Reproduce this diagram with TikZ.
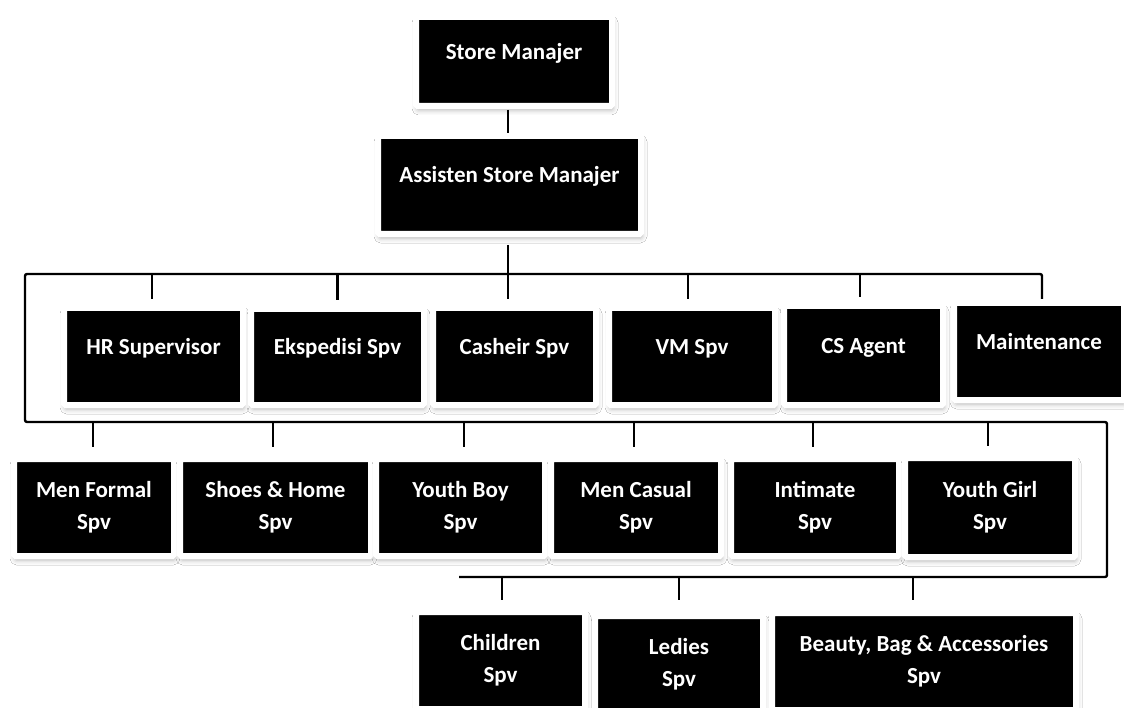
\documentclass[tikz,border=0pt]{standalone}
\usepackage{fontspec}
\setmainfont{Carlito}
\usetikzlibrary{shadows.blur}
\begin{document}
\begin{tikzpicture}[x=1pt,y=-1pt,
  box/.style={rectangle, fill=black, draw=white, line width=6pt, rounded corners=1.5pt,
    text=white, font=\bfseries\fontsize{23}{32}\selectfont, align=center, inner sep=0pt,
    blur shadow={shadow xshift=1pt, shadow yshift=-4pt, shadow blur radius=5pt, shadow opacity=30}},
  one/.style={text height=16pt, text depth=20pt},
  wire/.style={line width=2.4pt, line cap=butt},
  ]
\clip (0,0) rectangle (1124,708);
\fill[white] (0,0) rectangle (1124,708);

% top
\node[box, one, minimum width=196pt, minimum height=89pt] (sm) at (514,61.5) {Store Manajer};
\node[box, one, minimum width=263pt, minimum height=98pt] (asm) at (509.5,185) {Assisten Store Manajer};

% row 1
\node[box, one, minimum width=179pt, minimum height=97pt] (hr) at (153.5,356.5) {HR Supervisor};
\node[box, one, minimum width=173pt, minimum height=96pt] (eksp) at (337.5,357) {Ekspedisi Spv};
\node[box, one, minimum width=163pt, minimum height=97pt] (cas) at (514.5,356.5) {Casheir Spv};
\node[box, one, minimum width=166pt, minimum height=97pt] (vm) at (692,356.5) {VM Spv};
\node[box, one, minimum width=159pt, minimum height=99pt] (cs) at (863.5,355.5) {CS Agent};
\node[box, one, minimum width=170pt, minimum height=97pt] (maint) at (1039,351.5) {Maintenance};

% row 2
\node[box, minimum width=160pt, minimum height=97pt] (mf) at (94,507.5) {Men Formal\\Spv};
\node[box, minimum width=191pt, minimum height=97pt] (sh) at (275.5,507.5) {Shoes \& Home\\Spv};
\node[box, minimum width=169pt, minimum height=97pt] (yb) at (460.5,507.5) {Youth Boy\\Spv};
\node[box, minimum width=170pt, minimum height=97pt] (mc) at (636,507.5) {Men Casual\\Spv};
\node[box, minimum width=168pt, minimum height=97pt] (int) at (815,507.5) {Intimate\\Spv};
\node[box, minimum width=170pt, minimum height=99pt] (yg) at (990,507.5) {Youth Girl\\Spv};

% row 3
\node[box, minimum width=169pt, minimum height=97pt] (ch) at (500.5,660.5) {Children\\Spv};
\node[box, minimum width=168pt, minimum height=97pt] (led) at (679,664.5) {Ledies\\Spv};
\node[box, minimum width=304pt, minimum height=97pt] (bea) at (924,661.5) {Beauty, Bag \& Accessories\\Spv};

% bus corners
\coordinate (tl) at (25,274);
\coordinate (ml) at (25,422);
\coordinate (mr) at (1107,422);
\coordinate (br) at (1107,577);
\coordinate (bl) at (459,577);

% connectors
\draw[wire, shorten <=1pt] ([xshift=-1.5pt]asm.north |- sm.south) -- ([xshift=-1.5pt]asm.north);
\draw[wire, shorten <=8pt] ([xshift=-1.5pt]asm.south) -- ([xshift=-1.5pt]asm.south |- tl);
\draw[wire, rounded corners=2pt, shorten <=1pt] ([xshift=3pt]maint.north) |- (tl) -- (ml) -- (mr) -- (br) -- (bl);

\foreach \n/\dx in {hr/-1.5, eksp/0, cas/-6.5, vm/-4, cs/-3.5}
  \draw[wire, shorten >=6pt] ([xshift=\dx pt]\n.north |- tl) -- ([xshift=\dx pt]\n.north);
\foreach \n/\dx in {mf/-1, sh/-2.5, yb/3.5, mc/-2, int/-2, yg/-2}
  \draw[wire, shorten >=9pt] ([xshift=\dx pt]\n.north |- ml) -- ([xshift=\dx pt]\n.north);
\foreach \n/\dx/\s in {ch/1.5/9, led/0/13, bea/-11/10}
  \draw[wire, shorten >=\s pt] ([xshift=\dx pt]\n.north |- bl) -- ([xshift=\dx pt]\n.north);
\end{tikzpicture}
\end{document}
